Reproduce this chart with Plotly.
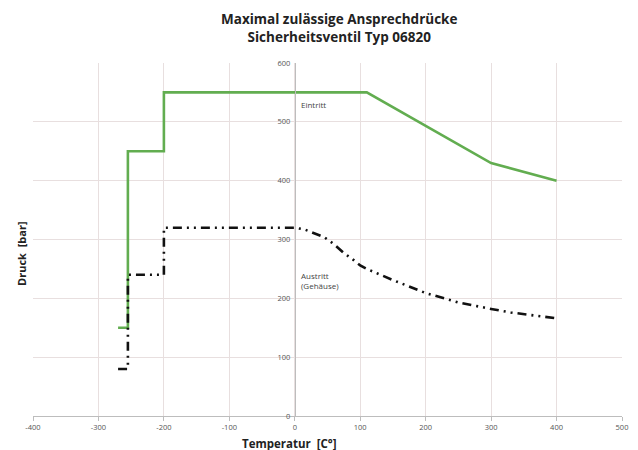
import plotly.graph_objects as go

# Temperature [°C] / pressure [bar] curves for safety valve type 06820
inlet_temp = [-270, -255, -255, -200, -200, 110, 300, 400]
inlet_press = [150, 150, 450, 450, 550, 550, 430, 400]

outlet_temp = [-270, -255, -255, -200, -200, 0, 15, 30, 45, 60, 75, 90, 100, 110, 150, 200, 250, 300, 330, 400]
outlet_press = [80, 80, 240, 240, 320, 320, 317, 311, 304, 292, 277, 265, 256, 250, 231, 209, 193, 182, 176, 166]

x_ticks = [-400, -300, -200, -100, 0, 100, 200, 300, 400, 500]
x_tick_labels = ["-400", "-300", "-200", "-100", "0", "100", "200", "300", "400", "500"]
y_ticks = [0, 100, 200, 300, 400, 500, 600]
y_tick_labels = ["0", "100", "200", "300", "400", "500", "600"]

x_range = [-400, 500]
y_range = [0, 600]

grid_col = "#e8dfdf"
font_fam = "Open Sans, Liberation Sans, sans-serif"

fig = go.Figure()
fig.add_trace(go.Scatter(
    x=inlet_temp, y=inlet_press, mode="lines",
    line=dict(color="#62ad50", width=2.6),
    name="Eintritt", showlegend=False,
))
fig.add_trace(go.Scatter(
    x=outlet_temp, y=outlet_press, mode="lines",
    line=dict(color="#111111", width=2.6, dash="9px,5px,2px,5px,2px,5px"),
    name="Austritt (Gehäuse)", showlegend=False,
))

# y axis sits at temperature 0, inside the plot
y_pos = (0 - x_range[0]) / (x_range[1] - x_range[0])

fig.update_layout(
    width=638, height=450,
    margin=dict(l=33, r=10, t=63, b=34),
    paper_bgcolor="white", plot_bgcolor="white",
    font=dict(family=font_fam, color="#444444"),
    xaxis=dict(
        range=x_range, tickvals=x_ticks, ticktext=x_tick_labels,
        showgrid=True, gridcolor=grid_col, gridwidth=1,
        zeroline=False, showline=True, linecolor="#bdbdbd", linewidth=1,
        ticks="outside", ticklen=4, tickcolor="#bdbdbd",
        tickfont=dict(size=7.5, color="#555555"),
    ),
    yaxis=dict(
        range=y_range, tickvals=y_ticks, ticktext=y_tick_labels,
        anchor="free", position=y_pos,
        showgrid=True, gridcolor=grid_col, gridwidth=1,
        zeroline=False, showline=True, linecolor="#bdbdbd", linewidth=1,
        ticks="", ticklabelstandoff=3,
        tickfont=dict(size=7.5, color="#555555"),
    ),
)

# two-line heading
fig.add_annotation(
    text="<b>Maximal zulässige Ansprechdrücke<br>Sicherheitsventil Typ 06820</b>",
    xref="paper", yref="paper", x=0.52, y=1.0, yshift=55, xanchor="center", yanchor="top",
    showarrow=False, align="center",
    font=dict(size=13.5, color="#222222"),
)
# axis titles
fig.add_annotation(
    text="<b>Temperatur  [C°]</b>", xref="x", yref="paper",
    x=-8, y=0, yshift=-27, xanchor="center", yanchor="middle", showarrow=False,
    font=dict(size=11.5, color="#222222"),
)
fig.add_annotation(
    text="<b>Druck  [bar]</b>", xref="paper", yref="paper",
    x=-0.036, y=0.46, textangle=-90, showarrow=False,
    font=dict(size=11, color="#222222"),
)
# curve labels
fig.add_annotation(
    text="Eintritt", x=7, y=530, xanchor="left", yanchor="middle",
    showarrow=False, font=dict(size=8, color="#444444"),
)
fig.add_annotation(
    text="Austritt<br>(Gehäuse)", x=7, y=230, xanchor="left", yanchor="middle",
    showarrow=False, align="left", font=dict(size=8, color="#444444"),
)

fig.write_html("out.html")
